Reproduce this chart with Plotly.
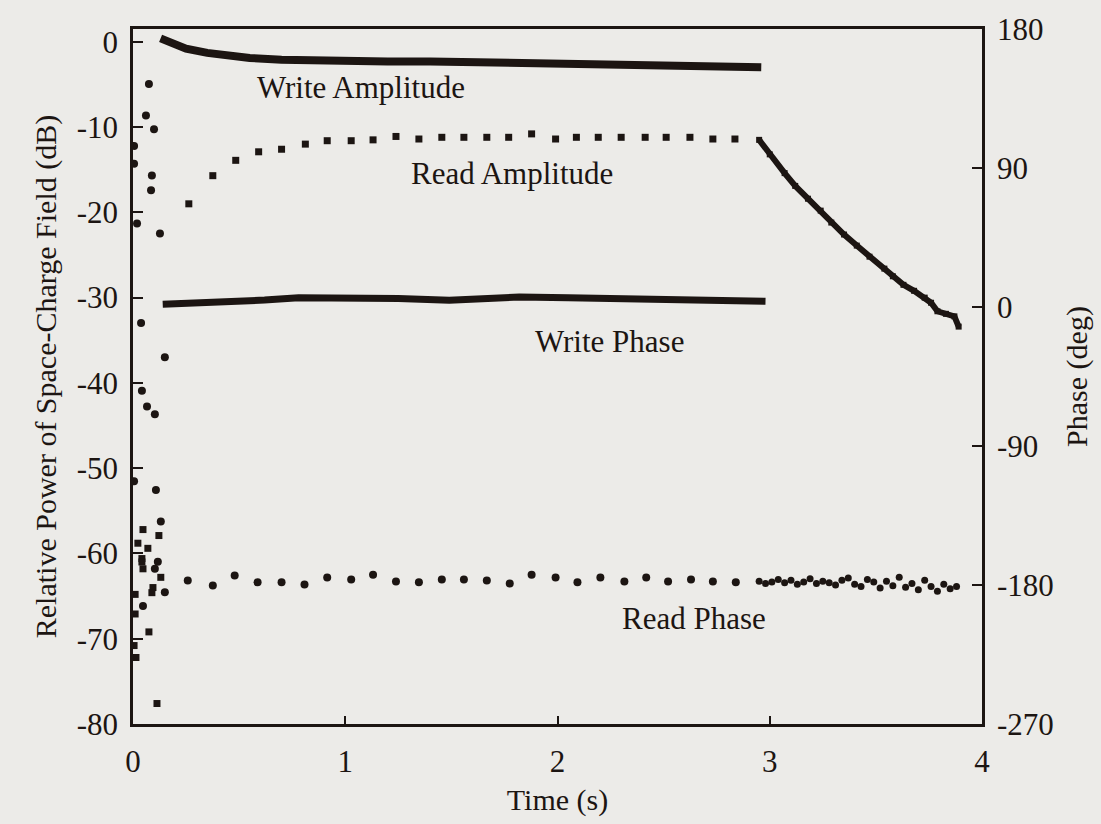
import plotly.graph_objects as go

# ---- Write beam amplitude (dB), dense trace during recording ----
write_amp_t = [0.13, 0.18, 0.25, 0.35, 0.45, 0.55, 0.70, 0.85, 1.00, 1.20, 1.40,
               1.60, 1.80, 2.00, 2.20, 2.40, 2.60, 2.80, 2.96]
write_amp_db = [0.4, -0.2, -0.8, -1.3, -1.7, -1.9, -2.1, -2.2, -2.25, -2.3, -2.3,
                -2.4, -2.5, -2.55, -2.6, -2.7, -2.8, -2.9, -3.0]

# ---- Write beam phase (deg), dense trace ----
write_ph_t = [0.14, 0.30, 0.47, 0.62, 0.78, 1.00, 1.25, 1.49, 1.65, 1.82, 2.05,
              2.29, 2.50, 2.76, 2.98]
write_ph_deg = [1.8, 2.5, 3.1, 4.5, 6.0, 6.2, 5.5, 4.3, 5.5, 6.5, 6.0,
                5.5, 5.0, 4.5, 3.7]

# ---- Read beam amplitude (dB), sampled points during recording ----
read_amp_t = [0.047, 0.122, 0.023, 0.070, 0.042, 0.042, 0.047, 0.131, 0.094, 0.089,
              0.010, 0.010, 0.075, 0.005, 0.014, 0.113,
              0.263, 0.376, 0.484, 0.592, 0.700, 0.812, 0.915, 1.028, 1.131, 1.239,
              1.347, 1.455, 1.559, 1.667, 1.770, 1.878, 1.991, 2.089, 2.192, 2.300,
              2.413, 2.512, 2.624, 2.732, 2.836]
read_amp_db = [-57.2, -57.9, -58.8, -59.4, -60.6, -61.0, -61.8, -62.8, -64.0, -64.6,
               -64.8, -67.1, -69.2, -70.8, -72.2, -77.6,
               -19.0, -15.7, -13.9, -12.9, -12.6, -12.0, -11.6, -11.6, -11.5, -11.1,
               -11.4, -11.2, -11.2, -11.2, -11.2, -10.8, -11.4, -11.2, -11.2, -11.2,
               -11.2, -11.2, -11.2, -11.4, -11.4]

# ---- Read beam amplitude (dB) during erasure ----
erase_amp_t = [2.95, 3.00, 3.07, 3.12, 3.18, 3.24, 3.29, 3.35, 3.41, 3.47, 3.54,
               3.58, 3.63, 3.68, 3.73, 3.76, 3.79, 3.83, 3.87, 3.89]
erase_amp_db = [-11.5, -13.2, -15.4, -16.9, -18.4, -19.8, -21.2, -22.6, -23.9, -25.2,
                -26.6, -27.5, -28.5, -29.2, -30.0, -30.6, -31.6, -31.9, -32.2, -33.4]

# ---- Read beam phase (deg), sampled points during recording ----
read_ph_t = [0.075, 0.061, 0.099, 0.089, 0.085, 0.019, 0.127, 0.038, 0.150, 0.042,
             0.066, 0.103, 0.108, 0.131, 0.117, 0.103, 0.150, 0.047, 0.005, 0.005,
             0.005,
             0.258, 0.376, 0.479, 0.587, 0.700, 0.808, 0.915, 1.028, 1.131, 1.239,
             1.347, 1.455, 1.559, 1.667, 1.775, 1.878, 1.991, 2.094, 2.202, 2.315,
             2.418, 2.521, 2.629, 2.732, 2.840]
read_ph_deg = [144.4, 124.0, 115.1, 85.2, 75.6, 54.0, 47.6, -10.3, -32.6, -54.2,
               -64.4, -69.5, -118.5, -138.9, -165.0, -169.4, -184.7, -193.6, 104.3, 92.8,
               -112.8,
               -177.1, -180.3, -173.9, -178.3, -178.3, -179.6, -175.2, -176.4, -173.3, -177.7,
               -178.3, -176.4, -176.4, -177.1, -179.0, -173.3, -175.2, -178.3, -175.2, -177.7,
               -175.2, -177.7, -176.4, -177.7, -178.3]

# ---- Read beam phase (deg) during erasure ----
erase_ph_t = [2.95, 2.98, 3.01, 3.04, 3.07, 3.10, 3.13, 3.16, 3.19, 3.22, 3.25,
              3.28, 3.31, 3.34, 3.37, 3.40, 3.43, 3.46, 3.49, 3.52, 3.55, 3.58,
              3.61, 3.64, 3.67, 3.70, 3.73, 3.76, 3.79, 3.82, 3.85, 3.88]
erase_ph_deg = [-177.5, -179.0, -178.0, -176.5, -178.5, -177.0, -179.5, -178.0, -176.0,
                -179.0, -177.5, -178.5, -180.0, -177.0, -175.5, -179.5, -181.0, -176.5,
                -178.0, -182.0, -177.5, -180.5, -175.0, -181.5, -179.0, -183.0, -177.0,
                -181.0, -184.0, -179.5, -182.5, -181.0]

# ---- Axis ticks ----
time_ticks = [0, 1, 2, 3, 4]
db_ticks = [-80, -70, -60, -50, -40, -30, -20, -10, 0]
deg_ticks = [-270, -180, -90, 0, 90, 180]

INK = "#1c1512"
PAPER = "#ecebe8"
FONT = "Liberation Serif, Times New Roman, serif"
TICK_SIZE = 31
TITLE_SIZE = 30

fig = go.Figure()

fig.add_trace(go.Scatter(x=write_amp_t, y=write_amp_db, mode="lines",
                         line=dict(color=INK, width=8), yaxis="y"))
fig.add_trace(go.Scatter(x=read_amp_t, y=read_amp_db, mode="markers",
                         marker=dict(symbol="square", size=7, color=INK), yaxis="y"))
fig.add_trace(go.Scatter(x=erase_amp_t, y=erase_amp_db, mode="lines+markers",
                         line=dict(color=INK, width=6),
                         marker=dict(symbol="square", size=6, color=INK), yaxis="y"))
fig.add_trace(go.Scatter(x=write_ph_t, y=write_ph_deg, mode="lines",
                         line=dict(color=INK, width=7), yaxis="y2"))
fig.add_trace(go.Scatter(x=read_ph_t, y=read_ph_deg, mode="markers",
                         marker=dict(symbol="circle", size=8, color=INK), yaxis="y2"))
fig.add_trace(go.Scatter(x=erase_ph_t, y=erase_ph_deg, mode="markers",
                         marker=dict(symbol="circle", size=7, color=INK), yaxis="y2"))

labels = [
    ("Write Amplitude", 1.075, -5.4),
    ("Read Amplitude", 1.784, -15.5),
    ("Write Phase", 2.244, -35.2),
    ("Read Phase", 2.643, -67.6),
]
for text, x, y in labels:
    fig.add_annotation(x=x, y=y, xref="x", yref="y", text=text, showarrow=False,
                       font=dict(family=FONT, size=TICK_SIZE, color=INK))

axis_common = dict(showline=True, linewidth=2.5, linecolor=INK, showgrid=False,
                   zeroline=False, ticks="inside", tickcolor=INK, tickwidth=1.5,
                   tickfont=dict(family=FONT, size=TICK_SIZE, color=INK))
title_font = dict(family=FONT, size=TITLE_SIZE, color=INK)

fig.update_layout(
    width=1101, height=824,
    margin=dict(l=133, r=116, t=20, b=97),
    paper_bgcolor=PAPER, plot_bgcolor=PAPER,
    showlegend=False,
    xaxis=dict(range=[0, 4], tickvals=time_ticks, ticktext=[str(v) for v in time_ticks],
               ticklen=8, mirror=True, ticklabelstandoff=8,
               title=dict(text="Time (s)", font=title_font, standoff=12),
               **axis_common),
    yaxis=dict(range=[-80, 1.5], tickvals=db_ticks, ticktext=[str(v) for v in db_ticks],
               ticklen=10, ticklabelstandoff=6,
               title=dict(text="Relative Power of Space-Charge Field (dB)",
                          font=title_font, standoff=12),
               **axis_common),
    yaxis2=dict(range=[-270, 180], tickvals=deg_ticks, ticktext=[str(v) for v in deg_ticks],
                ticklen=10, overlaying="y", side="right", ticklabelstandoff=6,
                title=dict(text="Phase (deg)", font=title_font, standoff=14),
                **axis_common),
)

fig.write_html("out.html")
